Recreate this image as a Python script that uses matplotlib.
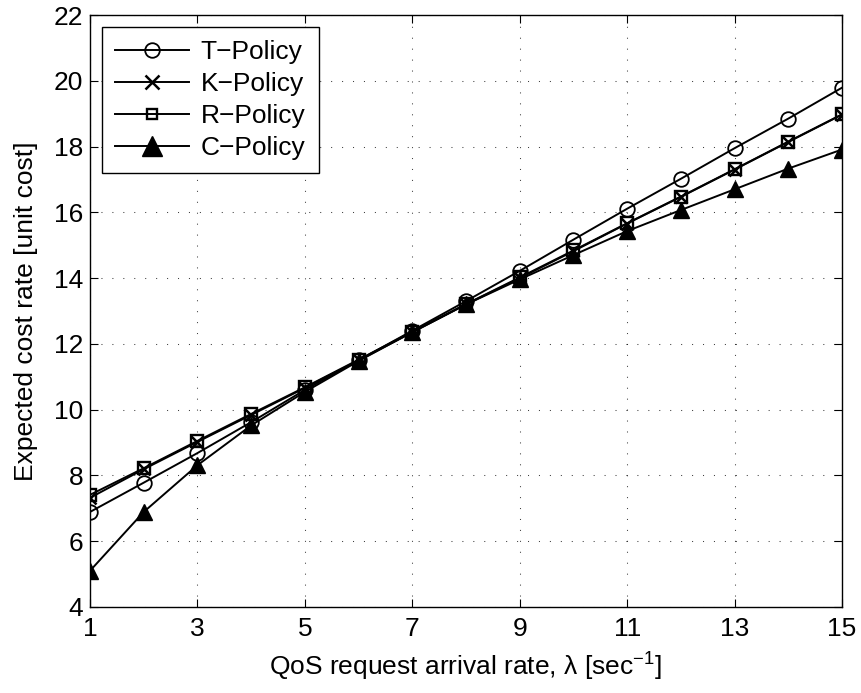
import matplotlib
matplotlib.use("Agg")
import matplotlib.pyplot as plt

plt.rcParams['font.family'] = ['Liberation Sans', 'DejaVu Sans']
plt.rcParams['mathtext.fontset'] = 'custom'
plt.rcParams['mathtext.rm'] = 'Liberation Sans'
plt.rcParams['mathtext.it'] = 'Liberation Sans'

arrival_rate = [1, 2, 3, 4, 5, 6, 7, 8, 9, 10, 11, 12, 13, 14, 15]
t_policy = [6.89, 7.78, 8.68, 9.62, 10.6, 11.5, 12.4, 13.3, 14.22, 15.17, 16.11, 17.02, 17.95, 18.85, 19.79]
k_policy = [7.32, 8.19, 9.02, 9.84, 10.66, 11.5, 12.35, 13.2, 14.0, 14.82, 15.66, 16.47, 17.3, 18.14, 18.97]
r_policy = [7.41, 8.22, 9.05, 9.87, 10.68, 11.52, 12.37, 13.21, 14.02, 14.84, 15.67, 16.48, 17.31, 18.15, 18.98]
c_policy = [5.1, 6.89, 8.31, 9.52, 10.54, 11.48, 12.36, 13.2, 13.96, 14.7, 15.43, 16.07, 16.7, 17.33, 17.91]

x_ticks = [1, 3, 5, 7, 9, 11, 13, 15]
y_ticks = [4, 6, 8, 10, 12, 14, 16, 18, 20, 22]

W, H = 862, 693
fig = plt.figure(figsize=(W / 100, H / 100), dpi=100)
ax = fig.add_axes([90 / W, 1 - 607 / H, (842 - 90) / W, (607 - 15) / H])

ax.plot(arrival_rate, t_policy, color='black', lw=1.4, marker='o', ms=10.5,
        mfc='none', mec='black', mew=1.3, label='T\u2212Policy')
ax.plot(arrival_rate, k_policy, color='black', lw=1.4, marker='x', ms=8,
        mec='black', mew=1.8, label='K\u2212Policy')
ax.plot(arrival_rate, r_policy, color='black', lw=1.4, marker='s', ms=9,
        mfc='none', mec='black', mew=1.7, label='R\u2212Policy')
ax.plot(arrival_rate, c_policy, color='black', lw=1.4, marker='^', ms=12,
        mfc='black', mec='black', label='C\u2212Policy')

ax.set_xlim(1, 15)
ax.set_ylim(4, 22)
ax.set_xticks(x_ticks)
ax.set_yticks(y_ticks)
ax.tick_params(direction='in', length=5.5, width=0.8, labelsize=19,
               top=True, right=True, pad=5)
ax.tick_params(axis='x', pad=7)
ax.grid(True, linestyle=(0, (1, 9.5)), color='black', lw=0.75, alpha=0.75)
for s in ax.spines.values():
    s.set_linewidth(1.0)

ax.set_xlabel('QoS request arrival rate, \u03bb [sec$^{\u22121}$]', fontsize=19, labelpad=7)
ax.set_ylabel('Expected cost rate [unit cost]', fontsize=19, labelpad=11)

leg = ax.legend(loc='upper left', fontsize=19, fancybox=False, framealpha=1,
                edgecolor='black', handlelength=2.8, borderpad=0.5,
                labelspacing=0.3, handletextpad=0.45, borderaxespad=0.45)
leg.get_frame().set_linewidth(1.0)
legend_sizes = [10.5, 9.5, 7, 14]
for h, size in zip(leg.legend_handles, legend_sizes):
    h.set_markersize(size)

fig.savefig('out.png', dpi=100)
